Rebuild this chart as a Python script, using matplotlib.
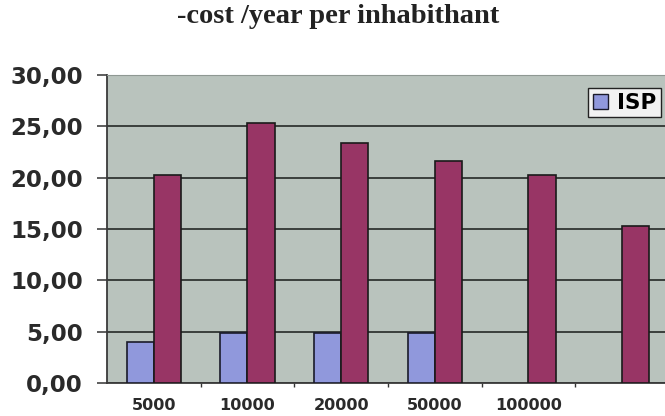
import numpy as np
from matplotlib import pyplot as plt
from matplotlib.patches import Patch

# cost per inhabitant and year, by town size
town_size = ["5000", "10000", "20000", "50000", "100000", ""]
isp_cost = [4.0, 4.9, 4.9, 4.9, np.nan, np.nan]
other_cost = [20.3, 25.35, 23.4, 21.65, 20.25, 15.3]
y_ticks = [0, 5, 10, 15, 20, 25, 30]
y_tick_labels = ["0,00", "5,00", "10,00", "15,00", "20,00", "25,00", "30,00"]

BLUE = '#9098dc'
RED = '#983565'
PLOT_BG = '#b9c3bd'

fig = plt.figure(figsize=(6.65, 4.16), dpi=100)
ax = fig.add_axes([107 / 665., 33 / 416., 562 / 665., 308 / 416.])
ax.set_facecolor(PLOT_BG)

x = np.arange(len(town_size))
bar_w = 0.29
ax.bar(x - bar_w / 2, isp_cost, width=bar_w, color=BLUE, edgecolor='#1a1a2a', linewidth=1.2, zorder=3)
ax.bar(x + bar_w / 2, other_cost, width=bar_w, color=RED, edgecolor='#1a1a1a', linewidth=1.2, zorder=3)

ax.set_xlim(-0.5, len(town_size) - 0.5)
ax.set_ylim(0, 30)

ax.set_yticks(y_ticks)
ax.set_yticklabels(y_tick_labels, fontsize=16.5, fontweight='bold', family='DejaVu Sans', color='#2a2a2a')
ax.tick_params(axis='y', length=7.2, width=1.1, color='#333333', pad=10)
ax.yaxis.grid(True, color='#3a3f3c', linewidth=1.4, zorder=1)

ax.set_xticks(x)
ax.set_xticklabels(town_size, fontsize=11.6, fontweight='bold', family='DejaVu Sans', color='#2a2a2a')
ax.set_xticks(x[:-1] + 0.5, minor=True)
ax.tick_params(axis='x', which='major', length=0, pad=11)
ax.tick_params(axis='x', which='minor', length=3, width=1.0, color='#333333')

for side in ['left', 'bottom']:
    ax.spines[side].set_color('#3a3a3a')
    ax.spines[side].set_linewidth(1.3)
ax.spines['top'].set_color('#8f9893')
ax.spines['right'].set_visible(False)

leg = ax.legend([Patch(facecolor=BLUE, edgecolor='#1a1a2a')], ["ISP"],
                loc='upper left', bbox_to_anchor=(481 / 562., 1 - 13 / 308.),
                prop={'weight': 'bold', 'size': 15.5, 'family': 'DejaVu Sans'},
                frameon=True, fancybox=False, handlelength=0.7, handleheight=0.7,
                handletextpad=0.45, borderpad=0.22, borderaxespad=0)
leg.get_frame().set_edgecolor('#222222')
leg.get_frame().set_facecolor('#f2f2f2')
leg.get_frame().set_alpha(1)

fig.text(338 / 665., 1 - 23 / 416., "-cost /year per inhabithant", ha='center', va='baseline',
         fontsize=20.5, fontweight='bold', family='Liberation Serif', color='#222222')

plt.savefig("out.png", dpi=100)
